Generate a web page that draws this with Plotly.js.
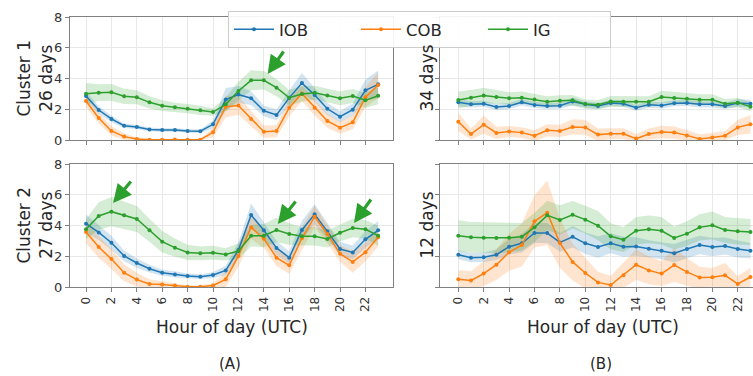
<!DOCTYPE html>
<html>
<head>
<meta charset="utf-8">
<script src="https://cdn.plot.ly/plotly-3.0.1.min.js"></script>
<style>html,body{margin:0;padding:0;background:#fff;}#chart{width:753px;height:376px;}</style>
</head>
<body>
<div id="chart"></div>
<script>
// ---- data ----
const hours = [0,1,2,3,4,5,6,7,8,9,10,11,12,13,14,15,16,17,18,19,20,21,22,23];
const tickHours = [0,2,4,6,8,10,12,14,16,18,20,22];
const yTicks = [0,2,4,6,8];
const seriesNames = ["IOB","COB","IG"];

// Panel A, Cluster 1 (26 days)
const a1_iob = [2.86,1.95,1.37,0.93,0.85,0.69,0.65,0.65,0.59,0.57,1.02,2.63,2.96,2.72,1.90,1.63,2.74,3.70,2.93,2.03,1.52,1.97,3.23,3.62];
const a1_iob_err = [0.3,0.25,0.2,0.15,0.13,0.12,0.12,0.12,0.12,0.12,0.25,0.75,0.55,0.45,0.35,0.35,0.5,0.65,0.45,0.4,0.35,0.4,0.7,0.9];
const a1_cob = [2.54,1.43,0.59,0.22,0.07,0.02,0.02,0.03,0.02,0.02,0.50,2.17,2.25,1.37,0.54,0.58,2.10,3.03,2.10,1.24,0.80,1.15,2.78,3.58];
const a1_cob_err = [0.4,0.35,0.3,0.2,0.1,0.05,0.05,0.05,0.05,0.05,0.3,0.7,0.6,0.5,0.4,0.4,0.55,0.5,0.5,0.45,0.4,0.45,0.65,0.85];
const a1_ig = [3.01,3.08,3.10,2.84,2.78,2.45,2.23,2.13,2.04,1.93,1.82,2.32,3.19,3.88,3.88,3.40,2.75,2.99,3.08,2.90,2.71,2.86,2.58,2.88];
const a1_ig_err = [0.7,0.55,0.55,0.5,0.45,0.4,0.35,0.3,0.3,0.3,0.25,0.45,0.6,0.65,0.6,0.55,0.5,0.5,0.45,0.45,0.45,0.45,0.5,0.55];

// Panel A, Cluster 2 (27 days)
const a2_iob = [4.12,3.55,2.88,2.02,1.56,1.19,0.93,0.82,0.72,0.67,0.78,1.08,2.40,4.68,3.69,2.54,1.91,3.71,4.73,3.62,2.47,2.25,3.10,3.69];
const a2_iob_err = [0.6,0.5,0.45,0.35,0.3,0.25,0.2,0.2,0.15,0.15,0.2,0.3,0.5,0.75,0.55,0.45,0.4,0.6,0.65,0.5,0.45,0.45,0.55,0.6];
const a2_cob = [3.58,2.60,1.82,0.93,0.48,0.20,0.17,0.09,0.02,0.02,0.10,0.50,2.02,3.88,3.14,1.91,1.41,3.17,4.57,3.45,2.17,1.63,2.26,3.23];
const a2_cob_err = [0.75,0.7,0.65,0.55,0.45,0.3,0.2,0.15,0.1,0.1,0.15,0.5,0.7,0.75,0.6,0.55,0.55,0.75,0.7,0.6,0.55,0.7,0.6,0.6];
const a2_ig = [3.75,4.62,4.90,4.66,4.42,3.69,2.95,2.56,2.25,2.19,2.23,2.12,2.34,3.34,3.34,3.71,3.45,3.30,3.30,3.12,3.53,3.84,3.75,3.34];
const a2_ig_err = [0.65,0.9,0.95,0.9,0.85,0.75,0.7,0.6,0.5,0.45,0.45,0.4,0.5,0.7,0.75,0.8,0.7,0.6,0.6,0.55,0.55,0.6,0.6,0.65];

// Panel B, 34 days
const b1_iob = [2.45,2.32,2.36,2.15,2.21,2.45,2.28,2.21,2.23,2.51,2.32,2.21,2.41,2.36,2.10,2.30,2.25,2.39,2.41,2.32,2.32,2.21,2.41,2.36];
const b1_iob_err = [0.25,0.2,0.2,0.2,0.2,0.2,0.2,0.2,0.2,0.25,0.2,0.2,0.2,0.2,0.2,0.2,0.2,0.2,0.2,0.2,0.2,0.2,0.25,0.25];
const b1_cob = [1.19,0.39,1.00,0.46,0.56,0.48,0.28,0.63,0.59,0.85,0.82,0.35,0.41,0.41,0.09,0.39,0.52,0.48,0.30,0.07,0.17,0.28,0.82,1.02];
const b1_cob_err = [0.6,0.35,0.6,0.4,0.35,0.35,0.35,0.4,0.4,0.5,0.5,0.4,0.35,0.35,0.3,0.35,0.4,0.4,0.35,0.3,0.3,0.3,0.5,0.6];
const b1_ig = [2.60,2.75,2.90,2.80,2.71,2.75,2.64,2.49,2.56,2.58,2.34,2.30,2.51,2.49,2.49,2.49,2.80,2.73,2.69,2.62,2.62,2.36,2.43,2.17];
const b1_ig_err = [0.55,0.5,0.5,0.45,0.4,0.4,0.35,0.35,0.35,0.35,0.3,0.3,0.35,0.35,0.35,0.35,0.4,0.4,0.35,0.35,0.35,0.3,0.3,0.3];

// Panel B, 12 days
const b2_iob = [2.10,1.91,1.93,2.10,2.62,2.84,3.51,3.51,2.90,3.27,2.84,2.60,2.84,2.62,2.64,2.49,2.36,2.19,2.47,2.73,2.60,2.67,2.47,2.36];
const b2_iob_err = [0.3,0.3,0.3,0.35,0.5,0.6,0.65,0.65,0.6,0.7,0.7,0.7,0.65,0.65,0.6,0.55,0.55,0.6,0.6,0.6,0.6,0.55,0.55,0.5];
const b2_cob = [0.50,0.43,0.87,1.45,2.26,2.73,4.27,4.83,2.86,1.63,0.91,0.30,0.13,0.76,1.45,1.08,0.87,1.43,0.98,0.61,0.63,0.76,0.20,0.65];
const b2_cob_err = [0.6,0.6,0.8,1.0,1.2,1.4,1.7,2.1,1.6,1.2,1.0,0.7,0.6,0.8,1.0,0.9,0.8,1.1,0.9,0.7,0.6,0.8,0.5,0.6];
const b2_ig = [3.34,3.23,3.21,3.19,3.21,3.27,3.88,4.66,4.36,4.70,4.38,3.99,3.30,3.08,3.66,3.75,3.66,3.19,3.47,3.88,4.01,3.71,3.62,3.58];
const b2_ig_err = [1.0,1.0,1.0,1.0,0.95,0.9,0.95,0.95,0.95,0.9,0.9,0.95,0.85,0.8,0.9,0.9,0.9,0.75,0.8,0.85,0.9,0.85,0.85,0.85];

// ---- styling ----
const colors = {IOB: "#1f77b4", COB: "#ff7f0e", IG: "#2ca02c"};
const fills = {IOB: "rgba(31,119,180,0.2)", COB: "rgba(255,127,14,0.2)", IG: "rgba(44,160,44,0.2)"};

const panels = [
  {xa: "x",  ya: "y",  series: {IOB: [a1_iob, a1_iob_err], COB: [a1_cob, a1_cob_err], IG: [a1_ig, a1_ig_err]}, legend: true},
  {xa: "x2", ya: "y2", series: {IOB: [b1_iob, b1_iob_err], COB: [b1_cob, b1_cob_err], IG: [b1_ig, b1_ig_err]}, legend: false},
  {xa: "x3", ya: "y3", series: {IOB: [a2_iob, a2_iob_err], COB: [a2_cob, a2_cob_err], IG: [a2_ig, a2_ig_err]}, legend: false},
  {xa: "x4", ya: "y4", series: {IOB: [b2_iob, b2_iob_err], COB: [b2_cob, b2_cob_err], IG: [b2_ig, b2_ig_err]}, legend: false}
];

const traces = [];
panels.forEach(p => {
  seriesNames.forEach(name => {
    const [v, e] = p.series[name];
    traces.push({x: hours, y: v.map((d, i) => d - e[i]), xaxis: p.xa, yaxis: p.ya, mode: "lines",
      line: {width: 0, color: fills[name]}, showlegend: false, hoverinfo: "skip"});
    traces.push({x: hours, y: v.map((d, i) => d + e[i]), xaxis: p.xa, yaxis: p.ya, mode: "lines",
      line: {width: 0, color: fills[name]}, fill: "tonexty", fillcolor: fills[name], showlegend: false, hoverinfo: "skip"});
  });
  seriesNames.forEach(name => {
    const [v] = p.series[name];
    traces.push({x: hours, y: v, xaxis: p.xa, yaxis: p.ya, mode: "lines+markers", name: name,
      line: {color: colors[name], width: 1.5}, marker: {color: colors[name], size: 4},
      showlegend: p.legend});
  });
});

const W = 753, H = 376;
const font = {family: "DejaVu Sans, sans-serif", color: "#262626"};
const gridColor = "#e8e8e8", lineColor = "#808080";

function xAxis(domain, range, anchor, labels) {
  return {domain: domain, range: range, anchor: anchor, tickmode: "array", tickvals: tickHours,
    ticktext: tickHours.map(String), showticklabels: labels, tickangle: -90, ticks: "outside", ticklen: 4,
    tickcolor: lineColor, showgrid: true, gridcolor: gridColor, zeroline: false, showline: true,
    linecolor: lineColor, linewidth: 1, mirror: true, tickfont: {size: 12, color: "#333"}};
}
function yAxis(domain, anchor, labels, mirror) {
  return {domain: domain, range: [0, 8], anchor: anchor, tickmode: "array", tickvals: yTicks,
    showticklabels: labels, ticks: "outside", ticklen: 4, tickcolor: lineColor, showgrid: true,
    gridcolor: gridColor, zeroline: false, showline: true, linecolor: lineColor, linewidth: 1,
    mirror: mirror, tickfont: {size: 13, color: "#333"}};
}
const leftDom = [70 / W, 393 / W], rightDom = [440 / W, 1];
const topDom = [1 - 140 / H, 1 - 17 / H], botDom = [1 - 287 / H, 1 - 164 / H];
const leftRange = [-1.26, 24.17], rightRange = [-1.44, 23.2];

const green = "#2ca02c";
function arrow(xr, yr, x, y, ax, ay) {
  return {xref: xr, yref: yr, x: x, y: y, ax: ax, ay: ay, text: "", showarrow: true,
    arrowhead: 2, arrowsize: 1.15, arrowwidth: 3.2, arrowcolor: green, standoff: 0};
}
function label(text, px, py, size, angle) {
  return {xref: "paper", yref: "paper", x: px / W, y: 1 - py / H, text: text, showarrow: false,
    xanchor: "center", yanchor: "middle", textangle: angle || 0, font: {size: size, color: "#262626"}};
}

const layout = {
  width: W, height: H, margin: {l: 0, r: 0, t: 0, b: 0},
  paper_bgcolor: "#fff", plot_bgcolor: "#fff", font: font, showlegend: true,
  xaxis: xAxis(leftDom, leftRange, "y", false),
  yaxis: yAxis(topDom, "x", true, true),
  xaxis2: xAxis(rightDom, rightRange, "y2", false),
  yaxis2: yAxis(topDom, "x2", false, false),
  xaxis3: xAxis(leftDom, leftRange, "y3", true),
  yaxis3: yAxis(botDom, "x3", true, true),
  xaxis4: xAxis(rightDom, rightRange, "y4", true),
  yaxis4: yAxis(botDom, "x4", false, false),
  legend: {orientation: "h", x: 228 / W, y: 1 - 11 / H, xanchor: "left", yanchor: "top",
    bgcolor: "rgba(255,255,255,0.9)", bordercolor: "#cccccc", borderwidth: 1, itemwidth: 40,
    font: {size: 16.5, color: "#262626"}, entrywidth: 72, entrywidthmode: "pixels", traceorder: "normal"},
  annotations: [
    label("Cluster 1<br>26 days", 34, 78.5, 17, -90),
    label("Cluster 2<br>27 days", 34, 225.5, 17, -90),
    label("34 days", 426, 78.5, 17, -90),
    label("12 days", 426, 225.5, 17, -90),
    label("Hour of day (UTC)", 232, 327, 17, 0),
    label("Hour of day (UTC)", 603, 327, 17, 0),
    label("(A)", 230, 364, 15, 0),
    label("(B)", 601, 364, 15, 0),
    arrow("x", "y", 14.3, 4.29, 17, -24),
    arrow("x3", "y3", 2.13, 5.46, 19, -23),
    arrow("x3", "y3", 15.1, 4.1, 19, -24),
    arrow("x3", "y3", 21.1, 4.16, 18, -25)
  ]
};

Plotly.newPlot("chart", traces, layout, {staticPlot: true, displayModeBar: false});
</script>
</body>
</html>
